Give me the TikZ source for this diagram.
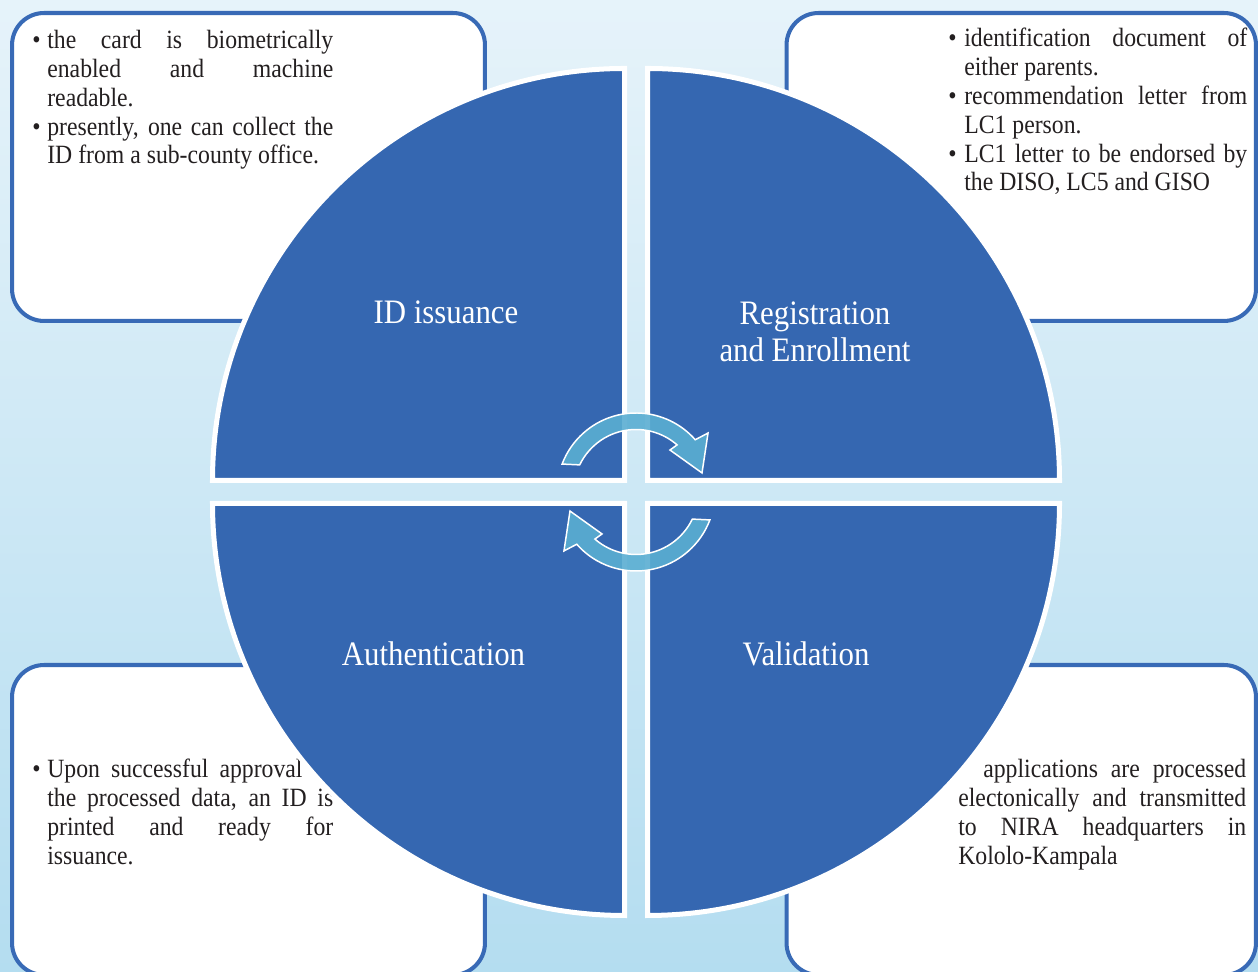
\documentclass[tikz,border=0pt]{standalone}
\usepackage{fontspec}
\setmainfont[FakeStretch=0.9]{Liberation Serif}
\usetikzlibrary{positioning}

\definecolor{bgtop}{RGB}{230,243,250}
\definecolor{bgbot}{RGB}{180,221,240}
\definecolor{secblue}{RGB}{53,103,177}
\definecolor{boxblue}{RGB}{56,106,182}
\definecolor{cycblue}{RGB}{90,174,210}
\definecolor{notetext}{RGB}{35,31,32}

% bullet with hanging indent
\newcommand{\bitem}[1]{\noindent\hangindent=#1\hangafter=1\makebox[#1][l]{\textbullet}\ignorespaces}

\tikzset{
  infobox/.style = {draw = boxblue, line width = 2.3pt, fill = white, rounded corners = .64cm, inner sep = 0pt, outer sep = 0pt},
  note/.style = {text = notetext, font = \fontsize{15}{16.4}\selectfont, align = justify, inner sep = 0pt, anchor = north west},
  sector/.style = {fill = secblue, draw = white, line width = 2.85pt},
  seclabel/.style = {text = white, font = \fontsize{19.5}{21.3}\selectfont, inner sep = 0pt, align = center},
  cyc/.style = {fill = cycblue, fill opacity = .9, draw = white, line width = .85pt}
}

\begin{document}
\begin{tikzpicture}[x = .02cm, y = .02cm]
  \useasboundingbox (0,0) rectangle (1258,972);
  \shade [top color = bgtop, bottom color = bgbot] (0,0) rectangle (1258,972);

  % boxes
  \node [infobox, minimum width = 9.46cm, minimum height = 6.16cm] (issbox) at (248.5,805) {};
  \node [infobox, minimum width = 9.39cm, minimum height = 6.16cm] (regbox) at (1021.25,805) {};
  \node [infobox, minimum width = 9.46cm, minimum height = 6.2cm] (authbox) at (248.5,152) {};
  \node [infobox, minimum width = 9.39cm, minimum height = 6.2cm] (valbox) at (1021.25,152) {};

  % box texts
  \node [note, text width = 6.02cm] (issnote) at (32,942) {\bitem{.3cm}the card is biometrically\linebreak enabled and machine\linebreak readable.\par
    \bitem{.3cm}presently, one can collect the\linebreak ID from a sub-county office.\par};
  \node [note, text width = 5.98cm] (regnote) at (948,944) {\bitem{.32cm}identification document of\linebreak either parents.\par
    \bitem{.32cm}recommendation letter from\linebreak LC1 person.\par
    \bitem{.32cm}LC1 letter to be endorsed by\linebreak the DISO, LC5 and GISO\par};
  \node [note, text width = 6.02cm] (authnote) at (32,213) {\bitem{.3cm}Upon successful approval of\linebreak the processed data, an ID is\linebreak printed and ready for\linebreak issuance.\par};
  \node [note, text width = 5.76cm] (valnote) at (958,213) {\noindent\hspace*{.5cm}applications are processed\linebreak electonically and transmitted\linebreak to NIRA headquarters in\linebreak Kololo-Kampala\par};

  % quarters
  \draw [sector] (624.5,491.5) --++ (180:412) arc [start angle = 180, end angle = 90, radius = 412] -- cycle;
  \draw [sector] (647.5,491.5) --++ (90:412) arc [start angle = 90, end angle = 0, radius = 412] -- cycle;
  \draw [sector] (647.5,468.5) --++ (0:412) arc [start angle = 0, end angle = -90, radius = 412] -- cycle;
  \draw [sector] (624.5,468.5) --++ (-90:412) arc [start angle = -90, end angle = -180, radius = 412] -- cycle;

  \node [seclabel, anchor = base] (iss) at (446,648) {ID issuance};
  \node [seclabel, anchor = north] (reg) at (815,671) {Registration\\and Enrollment};
  \node [seclabel, anchor = base] (auth) at (433.5,306) {Authentication};
  \node [seclabel, anchor = base] (val) at (806,306) {Validation};

  % cycle arrows
  \begin{scope}[shift = {(636,480)}]
    \draw [cyc] (154.3:62.5) arc [start angle = 154.3, end angle = 48.9, radius = 62.5] -- (51:54) -- (16.1:68.7) -- (39.3:93.1) -- (41.4:79) arc [start angle = 41.4, end angle = 159.3, radius = 79] -- cycle;
    \draw [cyc, rotate = 180] (154.3:62.5) arc [start angle = 154.3, end angle = 48.9, radius = 62.5] -- (51:54) -- (16.1:68.7) -- (39.3:93.1) -- (41.4:79) arc [start angle = 41.4, end angle = 159.3, radius = 79] -- cycle;
  \end{scope}
\end{tikzpicture}
\end{document}
